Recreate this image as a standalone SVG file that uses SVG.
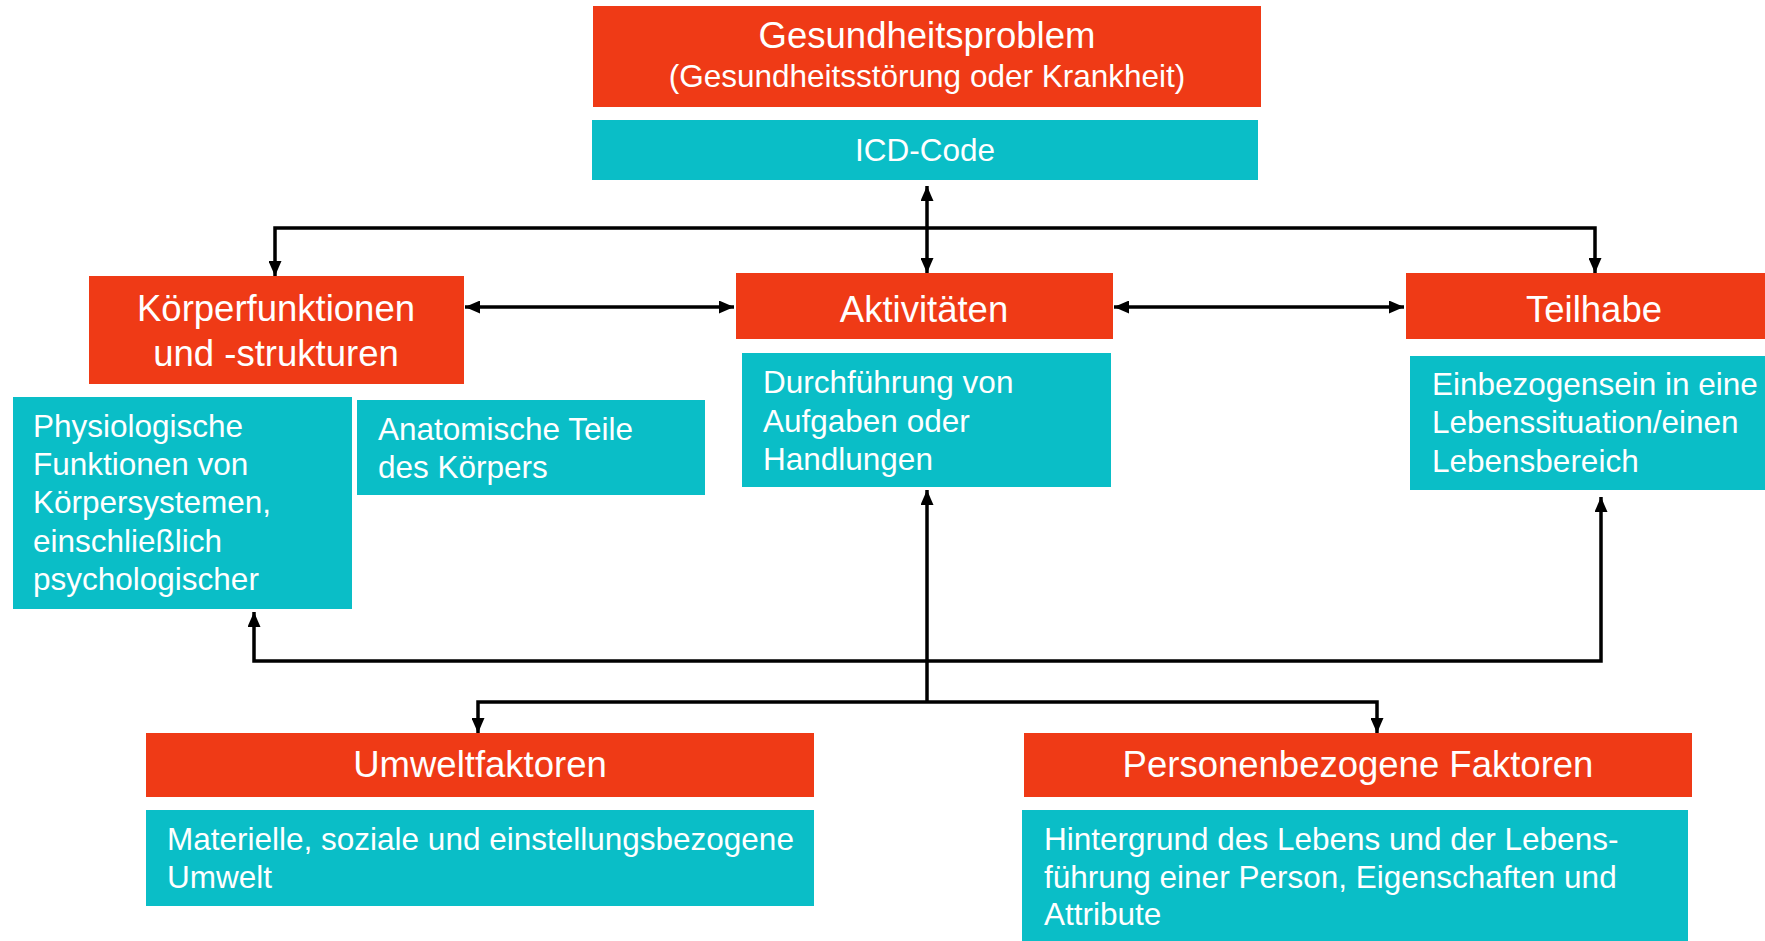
<svg xmlns="http://www.w3.org/2000/svg" width="1765" height="941" viewBox="0 0 1765 941">
<defs>
<style>
.red{fill:#EF3A16}
.cy{fill:#0ABEC7}
.t{font-family:"Liberation Sans",Arial,sans-serif;fill:#fff}
.h{font-size:36.5px;text-anchor:middle}
.s{font-size:31.5px}
.c{text-anchor:middle}
.ln{stroke:#000;stroke-width:3.5;fill:none}
</style>
<marker id="ah" viewBox="0 0 15 13" refX="15" refY="6.5" markerWidth="15" markerHeight="13" markerUnits="userSpaceOnUse" orient="auto-start-reverse">
<path d="M0,0 L15,6.5 L0,13 z" fill="#000"/>
</marker>
</defs>
<rect width="1765" height="941" fill="#fff"/>

<g id="connectors">
<line class="ln" x1="927" y1="186" x2="927" y2="273" marker-start="url(#ah)" marker-end="url(#ah)"/>
<path class="ln" d="M275,276 V228 H1595 V273" marker-start="url(#ah)" marker-end="url(#ah)"/>
<line class="ln" x1="465" y1="307" x2="734" y2="307" marker-start="url(#ah)" marker-end="url(#ah)"/>
<line class="ln" x1="1114" y1="307" x2="1404" y2="307" marker-start="url(#ah)" marker-end="url(#ah)"/>
<path class="ln" d="M254,612 V661 H1601 V497" marker-start="url(#ah)" marker-end="url(#ah)"/>
<line class="ln" x1="927" y1="702" x2="927" y2="490" marker-end="url(#ah)"/>
<path class="ln" d="M478,733 V702 H1377 V733" marker-start="url(#ah)" marker-end="url(#ah)"/>
</g>

<g id="gesundheitsproblem">
<rect class="red" x="593" y="6" width="668" height="101"/>
<text class="t h" x="927" y="48">Gesundheitsproblem</text>
<text class="t s c" x="927" y="87">(Gesundheitsstörung oder Krankheit)</text>
</g>
<g id="icd">
<rect class="cy" x="592" y="120" width="666" height="60"/>
<text class="t s c" x="925" y="161">ICD-Code</text>
</g>

<g id="koerper">
<rect class="red" x="89" y="276" width="375" height="108"/>
<text class="t h" x="276" y="321">Körperfunktionen</text>
<text class="t h" x="276" y="366">und -strukturen</text>
</g>
<g id="physiologisch">
<rect class="cy" x="13" y="397" width="339" height="212"/>
<text class="t s" x="33" y="437">Physiologische</text>
<text class="t s" x="33" y="475">Funktionen von</text>
<text class="t s" x="33" y="513">Körpersystemen,</text>
<text class="t s" x="33" y="552">einschließlich</text>
<text class="t s" x="33" y="590">psychologischer</text>
</g>
<g id="anatomisch">
<rect class="cy" x="357" y="400" width="348" height="95"/>
<text class="t s" x="378" y="440">Anatomische Teile</text>
<text class="t s" x="378" y="478">des Körpers</text>
</g>

<g id="aktivitaeten">
<rect class="red" x="736" y="273" width="377" height="66"/>
<text class="t h" x="924" y="322">Aktivitäten</text>
</g>
<g id="durchfuehrung">
<rect class="cy" x="742" y="353" width="369" height="134"/>
<text class="t s" x="763" y="393">Durchführung von</text>
<text class="t s" x="763" y="432">Aufgaben oder</text>
<text class="t s" x="763" y="470">Handlungen</text>
</g>

<g id="teilhabe">
<rect class="red" x="1406" y="273" width="359" height="66"/>
<text class="t h" x="1594" y="322">Teilhabe</text>
</g>
<g id="einbezogensein">
<rect class="cy" x="1410" y="356" width="355" height="134"/>
<text class="t s" x="1432" y="395">Einbezogensein in eine</text>
<text class="t s" x="1432" y="433">Lebenssituation/einen</text>
<text class="t s" x="1432" y="472">Lebensbereich</text>
</g>

<g id="umwelt">
<rect class="red" x="146" y="733" width="668" height="64"/>
<text class="t h" x="480" y="777">Umweltfaktoren</text>
</g>
<g id="materielle">
<rect class="cy" x="146" y="810" width="668" height="96"/>
<text class="t s" x="167" y="850">Materielle, soziale und einstellungsbezogene</text>
<text class="t s" x="167" y="888">Umwelt</text>
</g>

<g id="personen">
<rect class="red" x="1024" y="733" width="668" height="64"/>
<text class="t h" x="1358" y="777">Personenbezogene Faktoren</text>
</g>
<g id="hintergrund">
<rect class="cy" x="1022" y="810" width="666" height="131"/>
<text class="t s" x="1044" y="850">Hintergrund des Lebens und der Lebens-</text>
<text class="t s" x="1044" y="888">führung einer Person, Eigenschaften und</text>
<text class="t s" x="1044" y="925">Attribute</text>
</g>
</svg>
